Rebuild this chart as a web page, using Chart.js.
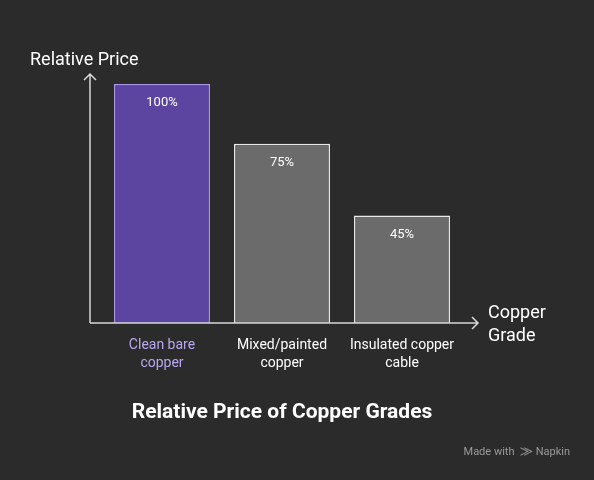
<!DOCTYPE html>
<html><head><meta charset="utf-8">
<script src="https://cdn.jsdelivr.net/npm/chart.js@4"></script>
<style>html,body{margin:0;background:#2b2b2b}#wrap{width:594px;height:480px}</style>
</head><body><div id="wrap"><canvas id="c"></canvas></div>
<script>
// ===== DATA =====
const grades = [["Clean bare", "copper"], ["Mixed/painted", "copper"], ["Insulated copper", "cable"]];
const prices = [100, 75, 45];
const fills = ["#5b45a0", "#6b6b6b", "#6b6b6b"];
const borders = ["#a995ea", "#e8e8e8", "#e8e8e8"];
const labelColors = ["#b9a8f0", "#ffffff", "#ffffff"];

const font = "Roboto, 'Noto Sans', sans-serif";

// axes, arrows, labels, title
const decor = {
  id: "decor",
  afterDatasetsDraw(chart) {
    const { ctx, chartArea: a, scales: { x, y } } = chart;
    const x0 = 90, y0 = a.bottom;
    ctx.save();
    ctx.strokeStyle = "#d8d8d8";
    ctx.lineWidth = 1.5;
    ctx.beginPath();
    ctx.moveTo(x0, y0); ctx.lineTo(x0, 74);
    ctx.moveTo(x0 - 6, 80); ctx.lineTo(x0, 74); ctx.lineTo(x0 + 6, 80);
    ctx.moveTo(x0, y0); ctx.lineTo(478, y0);
    ctx.moveTo(472, y0 - 6); ctx.lineTo(478, y0); ctx.lineTo(472, y0 + 6);
    ctx.stroke();

    ctx.fillStyle = "#ffffff";
    ctx.font = "18px " + font;
    ctx.textAlign = "left";
    ctx.textBaseline = "middle";
    ctx.fillText("Relative Price", 30, 60);
    ctx.fillText("Copper", 488, 313);
    ctx.fillText("Grade", 488, 336);

    ctx.textAlign = "center";
    ctx.font = "14px " + font;
    grades.forEach((g, i) => {
      const px = x.getPixelForValue(i);
      ctx.fillStyle = labelColors[i];
      ctx.fillText(g[0], px, 345);
      ctx.fillText(g[1], px, 363);
      ctx.fillStyle = "#ffffff";
      ctx.font = "13px " + font;
      ctx.fillText(prices[i] + "%", px, y.getPixelForValue(prices[i]) + 19);
      ctx.font = "14px " + font;
    });

    ctx.font = "bold 21px " + font;
    ctx.fillStyle = "#ffffff";
    ctx.fillText("Relative Price of Copper Grades", 282, 413);

    ctx.font = "11px " + font;
    ctx.fillStyle = "#9a9a9a";
    ctx.textAlign = "right";
    ctx.fillText("Made with  \u2A20 Napkin", 570, 452);
    ctx.restore();
  }
};

new Chart(document.getElementById("c"), {
  type: "bar",
  data: {
    labels: grades.map(g => g.join(" ")),
    datasets: [{
      data: prices,
      backgroundColor: fills,
      borderColor: borders,
      borderWidth: 1.5,
      barPercentage: 0.8,
      categoryPercentage: 1
    }]
  },
  options: {
    responsive: true,
    maintainAspectRatio: false,
    animation: false,
    layout: { padding: { left: 102, right: 132, top: 84, bottom: 157 } },
    plugins: { legend: { display: false }, tooltip: { enabled: false } },
    scales: {
      x: { display: false },
      y: { display: false, min: 0, max: 100 }
    }
  },
  plugins: [decor]
});
</script></body></html>
